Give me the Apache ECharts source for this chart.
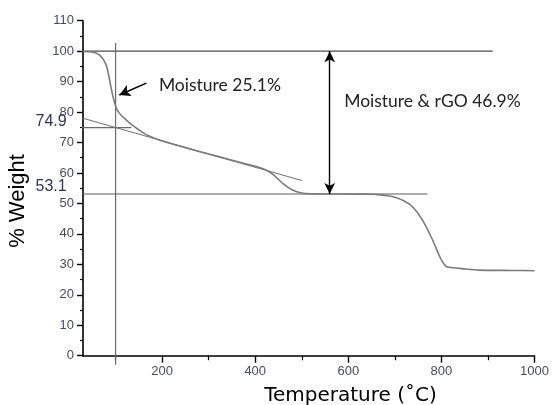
<!DOCTYPE html>
<html>
<head>
<meta charset="utf-8">
<script src="https://cdn.jsdelivr.net/npm/echarts@6/dist/echarts.min.js"></script>
<style>
  html, body { margin: 0; padding: 0; background: #ffffff; }
  #chart { width: 552px; height: 405px; }
</style>
</head>
<body>
<div id="chart"></div>
<script>
// Thermogravimetric curve: temperature (°C) against remaining weight (%)
const temperature = [30, 45, 58, 66, 74, 81, 86, 90, 94, 97, 100, 103, 107, 113, 120, 131, 150, 166, 200, 250, 300, 350, 400, 423, 440, 459, 480, 500, 520, 560, 600, 650, 670, 685, 700, 720, 738, 759, 781, 798, 807, 813, 850, 881, 950, 1000];
const weight      = [99.9, 99.8, 99.4, 98.6, 97.2, 94.9, 91.5, 88.2, 85.3, 83.6, 82.0, 80.9, 79.9, 78.8, 77.8, 76.3, 74.2, 72.6, 70.5, 68.3, 66.2, 64.2, 62.2, 61.0, 59.3, 56.6, 54.4, 53.4, 53.15, 53.1, 53.1, 53.0, 52.8, 52.5, 52.0, 50.8, 48.9, 44.6, 38.0, 32.0, 29.8, 29.1, 28.5, 28.1, 28.0, 27.9];

// Axis ticks
const xMajorTicks = [200, 400, 600, 800, 1000];
const xMinorTicks = [100, 300, 500, 700, 900];

// Reference levels (% weight)
const initialLevel = 100;
const moistureLevel = 74.9;
const residueLevel = 53.1;

// Tangent to the slow-decline region
const tangentX = [30, 500];
const tangentY = [78, 57.5];

// Onset temperature of the moisture step
const onsetTemp = 100;

// Annotation texts
const moistureText = 'Moisture 25.1%';
const totalText = 'Moisture & rGO 46.9%';
const xTitle = 'Temperature (˚C)';
const yTitle = '% Weight';

const chart = echarts.init(document.getElementById('chart'), null, { renderer: 'canvas' });

const refLine = (pts, color, width) => ({
  type: 'line',
  data: pts,
  clip: false,
  symbol: 'none',
  silent: true,
  lineStyle: { color: color, width: width },
  z: 1
});

const axisFont = { fontFamily: 'Liberation Sans', fontSize: 13, color: '#464b58', formatter: v => String(v) };

chart.setOption({
  animation: false,
  backgroundColor: '#ffffff',
  grid: { left: 83, right: 16.3, top: 20.7, bottom: 49.3 },
  xAxis: [
    {
      type: 'value', min: 30, max: 1000,
      axisLine: { lineStyle: { color: '#000', width: 1.6 } },
      axisTick: { show: true, length: 7, lineStyle: { color: '#000', width: 1.4 }, customValues: xMajorTicks },
      axisLabel: Object.assign({ margin: 9, customValues: xMajorTicks }, axisFont),
      splitLine: { show: false }
    },
    {
      type: 'value', min: 30, max: 1000, position: 'bottom',
      axisLine: { show: false },
      axisTick: { show: true, length: 4.5, lineStyle: { color: '#000', width: 1.2 }, customValues: xMinorTicks },
      axisLabel: { show: false },
      splitLine: { show: false }
    }
  ],
  yAxis: {
    type: 'value', min: 0, max: 110, interval: 10,
    axisLine: { show: true, lineStyle: { color: '#000', width: 1.6 } },
    axisTick: { show: true, length: 6, lineStyle: { color: '#000', width: 1.4 } },
    minorTick: { show: true, splitNumber: 2, length: 3, lineStyle: { color: '#000', width: 1.2 } },
    axisLabel: Object.assign({ margin: 9 }, axisFont),
    splitLine: { show: false }
  },
  series: [
    refLine([[-45, initialLevel], [910, initialLevel]], '#4a4a4a', 1.2),
    refLine([[onsetTemp, 102.7], [onsetTemp, -3]], '#6a6a6a', 1.2),
    refLine([[-4, moistureLevel], [134, moistureLevel]], '#6a6a6a', 1.1),
    refLine([[2, residueLevel], [770, residueLevel]], '#5a5a5a', 1.1),
    refLine([[tangentX[0], tangentY[0]], [tangentX[1], tangentY[1]]], '#777777', 1.1),
    {
      type: 'line',
      data: temperature.map((t, i) => [t, weight[i]]),
      symbol: 'none',
      smooth: 0.2,
      lineStyle: { color: '#7a7a7a', width: 1.6 },
      z: 3,
      markLine: {
        silent: true,
        animation: false,
        label: { show: false },
        data: [
          [
            { coord: [560, initialLevel], symbol: 'arrow', symbolSize: [8, 11], lineStyle: { color: '#000', width: 1.4, type: 'solid' } },
            { coord: [560, residueLevel], symbol: 'arrow', symbolSize: [8, 11] }
          ],
          [
            { coord: [166, 89.5], symbol: 'none', lineStyle: { color: '#000', width: 1.6, type: 'solid' } },
            { coord: [108, 85.6], symbol: 'arrow', symbolSize: [9, 11] }
          ]
        ]
      }
    }
  ]
});

// Text annotations placed at data positions
const px = (x, y) => chart.convertToPixel({ xAxisIndex: 0, yAxisIndex: 0 }, [x, y]);
const annFont = 'Lato';
const p1 = px(193, 88.9);
const p2 = px(591, 83.4);
const p3 = px(-5, moistureLevel + 2);
const p4 = px(-5, residueLevel + 2.4);

chart.setOption({
  graphic: [
    { type: 'text', x: p1[0], y: p1[1], style: { text: moistureText, font: '17.5px ' + annFont, fill: '#222', textAlign: 'left', textVerticalAlign: 'middle' } },
    { type: 'text', x: p2[0], y: p2[1], style: { text: totalText, font: '17.5px ' + annFont, fill: '#222', textAlign: 'left', textVerticalAlign: 'middle' } },
    { type: 'text', x: p3[0], y: p3[1], style: { text: String(moistureLevel), font: '16px "Liberation Sans"', fill: '#2d3650', textAlign: 'right', textVerticalAlign: 'middle' } },
    { type: 'text', x: p4[0], y: p4[1], style: { text: String(residueLevel), font: '16px "Liberation Sans"', fill: '#2d3650', textAlign: 'right', textVerticalAlign: 'middle' } },
    { type: 'text', x: 350.5, y: 396, style: { text: xTitle, font: '20px "DejaVu Sans"', fill: '#000', textAlign: 'center', textVerticalAlign: 'middle' } },
    { type: 'text', x: 18, y: 201, rotation: Math.PI / 2, style: { text: yTitle, font: '22px "Liberation Sans"', fill: '#000', textAlign: 'center', textVerticalAlign: 'middle' } }
  ]
});
</script>
</body>
</html>
